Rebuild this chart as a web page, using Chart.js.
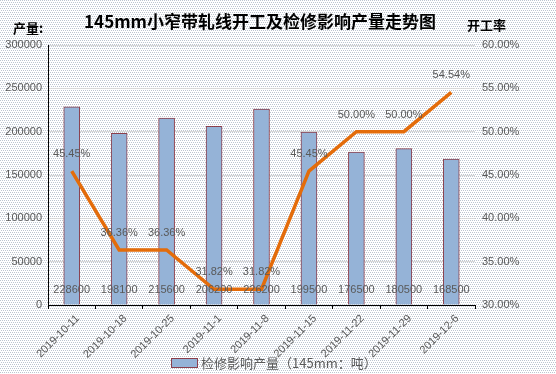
<!DOCTYPE html>
<html>
<head>
<meta charset="utf-8">
<script src="https://cdn.jsdelivr.net/npm/chart.js@4"></script>
<style>
  html, body { margin: 0; padding: 0; }
  #wrap { width: 556px; height: 374px; position: relative; }
</style>
</head>
<body>
<div id="wrap"><canvas id="chart" width="556" height="374"></canvas></div>
<script>
// 数据
var dates = ["2019-10-11", "2019-10-18", "2019-10-25", "2019-11-1", "2019-11-8",
             "2019-11-15", "2019-11-22", "2019-11-29", "2019-12-6"];
var output = [228600, 198100, 215600, 206200, 226200, 199500, 176500, 180500, 168500];
var rate = [45.45, 36.36, 36.36, 31.82, 31.82, 45.45, 50.00, 50.00, 54.54];

var grey = "#595959";
var labelFont = "'Liberation Sans', 'Noto Sans CJK SC', sans-serif";

// 背景点阵
(function () {
  var c = document.createElement("canvas");
  c.width = 4; c.height = 4;
  var g = c.getContext("2d");
  g.fillStyle = "#ffffff";
  g.fillRect(0, 0, 4, 4);
  g.fillStyle = "#bcc4cf";
  g.fillRect(0, 0, 1, 1); g.fillRect(2, 0, 1, 1);
  g.fillRect(1, 2, 1, 1); g.fillRect(3, 2, 1, 1);
  document.body.style.background = "url(" + c.toDataURL() + ")";
})();

// 标题、轴名称、图例和数据标签
var textPlugin = {
  id: "texts",
  afterDatasetsDraw: function (chart) {
    var ctx = chart.ctx;
    var bar = chart.data.datasets[1];
    ctx.save();
    ctx.fillStyle = "#000";
    ctx.textBaseline = "middle";
    ctx.textAlign = "center";
    ctx.font = "bold 17px 'Noto Sans CJK SC', sans-serif";
    ctx.fillText("145mm小窄带轧线开工及检修影响产量走势图", 260, 22);
    ctx.font = "bold 13px 'Noto Sans CJK SC', sans-serif";
    ctx.textAlign = "left";
    ctx.fillText("产量:", 13, 28);
    ctx.fillText("开工率", 467, 25);

    // 图例（只有柱形）
    ctx.fillStyle = bar.backgroundColor;
    ctx.strokeStyle = bar.borderColor;
    ctx.lineWidth = 1;
    ctx.fillRect(171.5, 358.5, 26, 9);
    ctx.strokeRect(171.5, 358.5, 26, 9);
    ctx.fillStyle = grey;
    ctx.font = "13px 'Noto Sans CJK SC', sans-serif";
    ctx.fillText(bar.label, 201, 363);

    ctx.font = "11px " + labelFont;
    ctx.textAlign = "center";
    var y0 = chart.scales.y.getPixelForValue(0);
    chart.getDatasetMeta(1).data.forEach(function (b, i) {
      ctx.fillText(String(output[i]), b.x, y0 - 15);
    });
    chart.getDatasetMeta(0).data.forEach(function (pt, i) {
      ctx.fillText(rate[i].toFixed(2) + "%", pt.x, pt.y - 17);
    });
    ctx.restore();
  }
};

var ctx = document.getElementById("chart");
var chart = new Chart(ctx, {
  data: {
    labels: dates,
    datasets: [{
      type: "line",
      label: "开工率",
      data: rate,
      yAxisID: "y2",
      borderColor: "#E46C0A",
      borderWidth: 3.5,
      pointRadius: 0,
      tension: 0,
      order: 0
    }, {
      type: "bar",
      label: "检修影响产量（145mm：吨）",
      data: output,
      yAxisID: "y",
      backgroundColor: "#95B3D7",
      borderColor: "#8B3F4C",
      borderWidth: 1,
      barThickness: 16,
      order: 1
    }]
  },
  options: {
    responsive: false,
    animation: false,
    layout: { padding: { top: 45, left: 0, right: 0, bottom: 0 } },
    plugins: {
      title: { display: false },
      tooltip: { enabled: false },
      legend: { display: false }
    },
    scales: {
      x: {
        offset: true,
        grid: {
          offset: true,
          drawOnChartArea: false,
          color: "#000",
          tickLength: 4
        },
        border: { color: "#000" },
        ticks: {
          color: grey,
          font: { size: 11, family: labelFont },
          minRotation: 45,
          maxRotation: 45,
          labelOffset: 6
        },
        afterFit: function (s) { s.height = 69; }
      },
      y: {
        position: "left",
        min: 0,
        max: 300000,
        ticks: {
          stepSize: 50000,
          color: grey,
          padding: 6,
          font: { size: 11, family: labelFont },
          callback: function (v) { return String(v); }
        },
        grid: { color: "#d9d9d9", drawTicks: false },
        border: { color: "#000" },
        afterFit: function (s) { s.width = 48; }
      },
      y2: {
        position: "right",
        min: 30,
        max: 60,
        ticks: {
          stepSize: 5,
          color: grey,
          padding: 7,
          font: { size: 11, family: labelFont },
          callback: function (v) { return v.toFixed(2) + "%"; }
        },
        grid: { drawOnChartArea: false, drawTicks: false },
        border: { display: false },
        afterFit: function (s) { s.width = 81; }
      }
    }
  },
  plugins: [textPlugin]
});
</script>
</body>
</html>
